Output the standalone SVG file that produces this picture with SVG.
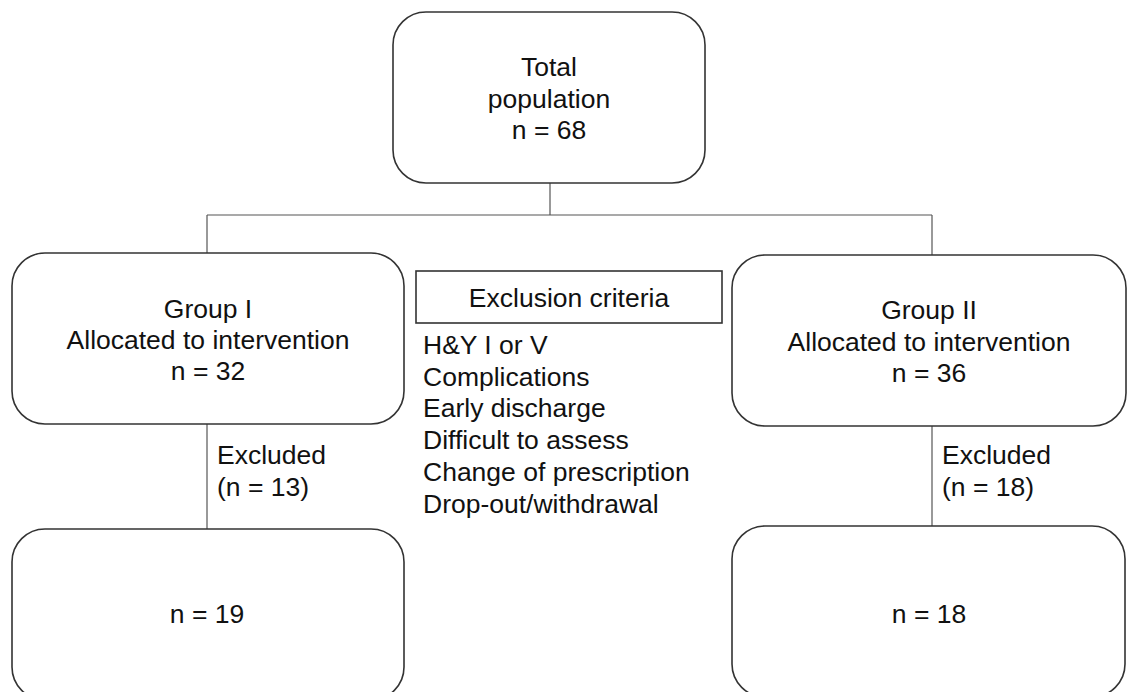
<svg xmlns="http://www.w3.org/2000/svg" width="1129" height="692" viewBox="0 0 1129 692">
<style>
.box{fill:#fff;stroke:#333;stroke-width:1.6}
.conn{fill:none;stroke:#555;stroke-width:1.2}
text{font-family:"Liberation Sans",Arial,Helvetica,sans-serif;font-size:26.5px;fill:#111}
.c{text-anchor:middle}
</style>
<rect width="1129" height="692" fill="#fff"/>
<g id="connectors">
<line class="conn" x1="550" y1="183" x2="550" y2="215"/>
<line class="conn" x1="207" y1="215" x2="932" y2="215"/>
<line class="conn" x1="207" y1="215" x2="207" y2="253"/>
<line class="conn" x1="932" y1="215" x2="932" y2="255"/>
<line class="conn" x1="207" y1="424" x2="207" y2="529"/>
<line class="conn" x1="932" y1="426" x2="932" y2="526"/>
</g>
<g id="total">
<rect class="box" x="393" y="12" width="312" height="171" rx="33"/>
<text class="c" x="549" y="76">Total</text>
<text class="c" x="549" y="108">population</text>
<text class="c" x="549" y="139">n = 68</text>
</g>
<g id="group1">
<rect class="box" x="12" y="253" width="392" height="171" rx="33"/>
<text class="c" x="208" y="318">Group I</text>
<text class="c" x="208" y="349">Allocated to intervention</text>
<text class="c" x="208" y="380">n = 32</text>
</g>
<g id="group2">
<rect class="box" x="732" y="255" width="394" height="171" rx="33"/>
<text class="c" x="929" y="319">Group II</text>
<text class="c" x="929" y="351">Allocated to intervention</text>
<text class="c" x="929" y="382">n = 36</text>
</g>
<g id="exclusion">
<rect class="box" x="416" y="271" width="306" height="52"/>
<text class="c" x="569" y="307">Exclusion criteria</text>
<text x="423" y="354">H&amp;Y I or V</text>
<text x="423" y="386">Complications</text>
<text x="423" y="417">Early discharge</text>
<text x="423" y="449">Difficult to assess</text>
<text x="423" y="481">Change of prescription</text>
<text x="423" y="513">Drop-out/withdrawal</text>
</g>
<g id="excluded1">
<text x="217" y="464">Excluded</text>
<text x="217" y="496">(n = 13)</text>
</g>
<g id="excluded2">
<text x="942" y="464">Excluded</text>
<text x="942" y="496">(n = 18)</text>
</g>
<g id="final1">
<rect class="box" x="12" y="529" width="392" height="171" rx="33"/>
<text class="c" x="207" y="623">n = 19</text>
</g>
<g id="final2">
<rect class="box" x="732" y="526" width="393" height="171" rx="33"/>
<text class="c" x="929" y="623">n = 18</text>
</g>
</svg>
